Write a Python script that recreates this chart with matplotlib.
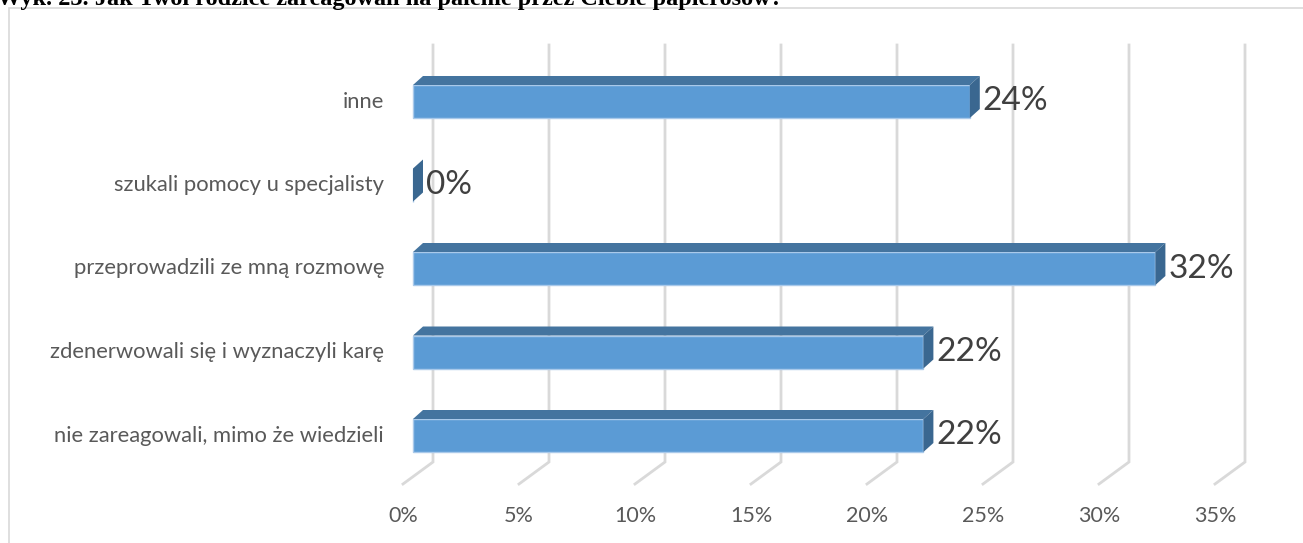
import matplotlib.pyplot as plt
from matplotlib.patches import Polygon, Rectangle

# dane z wykresu
categories = ['nie zareagowali, mimo że wiedzieli',
              'zdenerwowali się i wyznaczyli karę',
              'przeprowadzili ze mną rozmowę',
              'szukali pomocy u specjalisty',
              'inne']
values = [22, 22, 32, 0, 24]
ticks = [0, 5, 10, 15, 20, 25, 30, 35]
tick_labels = ['0%', '5%', '10%', '15%', '20%', '25%', '30%', '35%']
title = 'Wyk. 23. Jak Twoi rodzice zareagowali na palenie przez Ciebie papierosów?'

W, H = 1303, 543
PX_X = 23.2      # pikseli na 1%
PX_Y = 83.5      # pikseli na kategorię
X0 = 413         # piksel dla 0%
Y0 = 435.5       # piksel środka pierwszego słupka

def dx(px):
    return px / PX_X

def dy(px):
    return px / PX_Y

def ypx(py):
    return (Y0 - py) / PX_Y

plt.rcParams['font.family'] = ['Lato', 'DejaVu Sans']
fig = plt.figure(figsize=(W / 100, H / 100), dpi=100)
ax = fig.add_axes([0, 0, 1, 1])
ax.set_xlim(-X0 / PX_X, (W - X0) / PX_X)
ax.set_ylim(ypx(H), ypx(0))
ax.axis('off')

# ramka wykresu
ax.add_patch(Rectangle((dx(9 - X0), ypx(H + 20)), dx(W + 40), ypx(8) - ypx(H + 20),
                       fill=False, edgecolor='#d9d9d9', linewidth=1.2))

# tytuł (ucięty u góry)
ax.text(dx(-3 - X0), ypx(5), title, ha='left', va='baseline',
        fontsize=17.5, fontweight='bold', family='Liberation Serif', color='black')

# linie siatki (tylna ściana + podłoga)
for t, lab in zip(ticks, tick_labels):
    xs = [t + dx(20), t + dx(20), t - dx(10)]
    ys = [ypx(45), ypx(462), ypx(484)]
    ax.plot(xs, ys, color='#d9d9d9', linewidth=2, solid_joinstyle='miter', zorder=1)
    ax.text(t - dx(10), ypx(516), lab, ha='center', va='center',
            fontsize=15.5, color='#595959')

bar_h = dy(33)
ddx, ddy = dx(10), dy(9)
pos = list(range(len(categories)))

ax.barh(pos, values, height=bar_h, color='#5b9bd5', edgecolor='#a9c9ea',
        linewidth=1, zorder=3)

for y, v, cat in zip(pos, values, categories):
    top = y + bar_h / 2
    bot = y - bar_h / 2
    if v > 0:
        ax.add_patch(Polygon([(0, top), (v, top), (v + ddx, top + ddy), (ddx, top + ddy)],
                             closed=True, facecolor='#44749f', edgecolor='none', zorder=3))
    ax.add_patch(Polygon([(v, bot), (v + ddx, bot + ddy), (v + ddx, top + ddy), (v, top)],
                         closed=True, facecolor='#3a6790', edgecolor='none', zorder=3))
    ax.text(v + ddx + dx(3), y, f'{v}%', ha='left', va='center',
            fontsize=24, color='#404040', zorder=4)
    ax.text(dx(384 - X0), y, cat, ha='right', va='center',
            fontsize=15.8, color='#595959')

fig.savefig('out.png', dpi=100)
